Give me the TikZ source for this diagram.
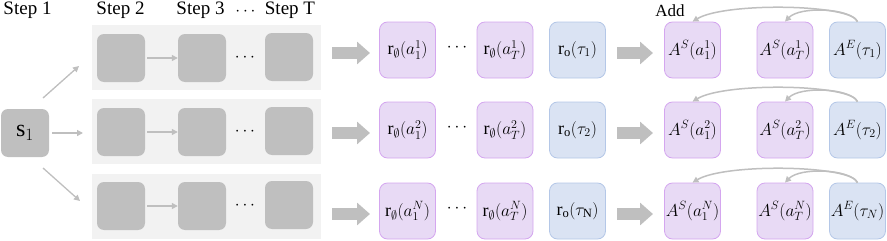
\documentclass[tikz,border=0pt]{standalone}
\usepackage{fontspec}
\setmainfont{Liberation Serif}
\usetikzlibrary{arrows.meta}
\definecolor{boxgray}{HTML}{BFBFBF}
\definecolor{bggray}{HTML}{F2F2F2}
\definecolor{arrgray}{HTML}{BFBFBF}
\definecolor{pfill}{HTML}{E8DAF5}
\definecolor{pedge}{HTML}{D4A6EF}
\definecolor{bfill}{HTML}{DAE3F3}
\definecolor{bedge}{HTML}{B4C7E7}
\begin{document}
\begin{tikzpicture}[x=1pt,y=-1pt,
  gbox/.style={fill=boxgray, rounded corners=7pt, minimum width=48pt, minimum height=48pt, inner sep=0pt},
  bgrow/.style={fill=bggray, minimum width=229pt, minimum height=65pt, inner sep=0pt},
  s1box/.style={fill=boxgray, rounded corners=7pt, minimum width=48pt, minimum height=48pt, inner sep=0pt, font=\fontsize{24}{26}\selectfont},
  pbox/.style={draw=pedge, fill=pfill, line width=0.8pt, rounded corners=8pt, minimum width=56pt, minimum height=56pt, inner sep=0pt, font=\fontsize{18}{20}\selectfont},
  bbox/.style={draw=bedge, fill=bfill, line width=0.8pt, rounded corners=8pt, minimum width=56pt, minimum height=56pt, inner sep=0pt, font=\fontsize{18}{20}\selectfont},
  hdr/.style={font=\fontsize{19}{22}\selectfont, inner sep=0pt},
  thinarr/.style={draw=arrgray, line width=1.3pt, -{Triangle[length=6pt,width=6pt]}},
  bigarr/.style={draw=arrgray, line width=12pt, -{Triangle[length=13pt,width=22pt]}},
  curvarr/.style={draw=arrgray, line width=1.5pt, -{Triangle[length=6pt,width=6pt]}},
  dots/.style={font=\fontsize{16}{18}\selectfont, inner sep=0pt}
]
\useasboundingbox (0,0) rectangle (887,241);

% headers
\node[hdr] (h1) at (27.5,10) {Step 1};
\node[hdr] (h2) at (120.5,10) {Step 2};
\node[hdr] (h3) at (200.5,10) {Step 3};
\node[dots] (hd) at (245.5,12) {$\cdots$};
\node[hdr] (hT) at (290,10) {Step T};
\node[hdr, font=\fontsize{17}{20}\selectfont] (add) at (670,11) {Add};

% s1
\node[s1box] (s1) at (25,133) {$\mathrm{s}_1$};
\coordinate (u0) at (43,98);  \coordinate (u1) at (79,66);
\coordinate (m0) at (52,133); \coordinate (m1) at (83,133);
\coordinate (d0) at (43,168); \coordinate (d1) at (80,201);
\draw[thinarr] (u0) -- (u1);
\draw[thinarr] (m0) -- (m1);
\draw[thinarr] (d0) -- (d1);

\foreach \r/\yc/\yg/\ybg/\sa/\st/\sb in {1/50/58/57.5/1/1/1, 2/130/132/131.5/2/2/2, 3/211/206/206.5/N/\mathrm{N}/N}{
  \node[bgrow] (bg\r) at (206.5,\ybg) {};
  \node[gbox] (ga\r) at (121,\yg) {};
  \node[gbox] (gb\r) at (202,\yg) {};
  \node[gbox] (gc\r) at (289,\yg-1) {};
  \draw[thinarr] (ga\r.east) ++(2,0) coordinate (ga\r s) -- (gb\r.west);
  \node[dots] (gd\r) at (245,\yg) {$\cdots$};
  % reward boxes
  \coordinate (ba\r) at (332,\yc+3);
  \coordinate (bb\r) at (370,\yc+3);
  \draw[bigarr] (ba\r) -- (bb\r);
  \node[pbox] (ra\r) at (407.5,\yc) {$\mathrm{r}_{\emptyset}(a_1^{\sa})$};
  \node[dots] (rd\r) at (457,\yc-2) {$\cdots$};
  \node[pbox] (rb\r) at (505,\yc) {$\mathrm{r}_{\emptyset}(a_T^{\sa})$};
  \node[bbox] (rc\r) at (577.5,\yc) {$\mathrm{r}_{\mathrm{o}}(\tau_{\st})$};
  % advantage boxes
  \coordinate (ca\r) at (617,\yc+3);
  \coordinate (cb\r) at (653,\yc+3);
  \draw[bigarr] (ca\r) -- (cb\r);
  \node[pbox] (aa\r) at (692.5,\yc) {$A^S(a_1^{\sa})$};
  \node[pbox] (ab\r) at (785,\yc) {$A^S(a_T^{\sa})$};
  \node[bbox] (ac\r) at (857.5,\yc) {$A^E(\tau_{\sb})$};
  \draw[curvarr] (ac\r.north) .. controls (852,\yc-46) and (725,\yc-48) .. (aa\r.north);
  \draw[curvarr] (ac\r.north) .. controls (850,\yc-42) and (800,\yc-44) .. (ab\r.north);
}
\end{tikzpicture}
\end{document}
